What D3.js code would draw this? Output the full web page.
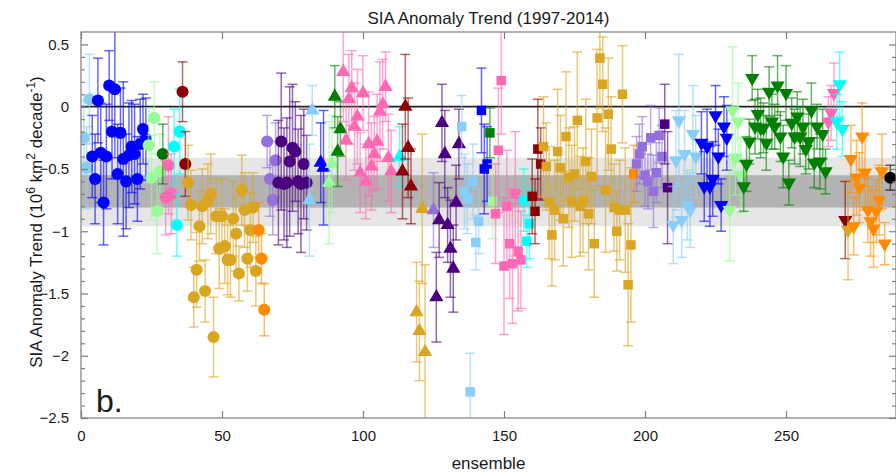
<!DOCTYPE html>
<html>
<head>
<meta charset="utf-8">
<script src="https://cdn.jsdelivr.net/npm/d3@7"></script>
<style>
  body { margin: 0; background: #fff; }
  svg { display: block; }
  text { font-family: "Liberation Sans", Arial, Helvetica, sans-serif; fill: #1a1a1a; }
</style>
</head>
<body>
<svg id="chart" width="896" height="474"></svg>
<script>
// One entry per model: colour, marker, first ensemble member, trends and 1-sigma errors
const modelColor = [
  "#87CEFA", "#0000FF", "#98FB98", "#007000", "#FF69B4", "#00FFFF", "#8B0000", "#DAA520", "#FF8C00", "#9370DB", "#4B0082",
  "#87CEFA", "#0000FF", "#98FB98", "#008000", "#FF69B4", "#00FFFF", "#8B0000", "#DAA520", "#9370DB", "#4B0082",
  "#87CEFA", "#0000FF", "#008000", "#98FB98", "#FF69B4", "#00FFFF", "#8B0000", "#DAA520", "#FF8C00", "#9370DB", "#4B0082",
  "#87CEFA", "#0000FF", "#98FB98", "#008000", "#FF69B4", "#00FFFF", "#8B0000", "#DAA520", "#FF8C00",
  "#000000"
];
const modelShape = [
  "o", "o", "o", "o", "o", "o", "o", "o", "o", "o", "o",
  "^", "^", "^", "^", "^", "^", "^", "^", "^", "^",
  "s", "s", "s", "s", "s", "s", "s", "s", "s", "s", "s",
  "v", "v", "v", "v", "v", "v", "v", "v", "v",
  "o"
];
const modelStart = [
  1, 4, 24, 29, 30, 33, 36, 38, 63, 66, 70,
  81, 85, 88, 90, 93, 113, 114, 119, 125, 126,
  135, 142, 145, 146, 147, 157, 160, 164, 196, 197, 207,
  210, 220, 230, 235, 265, 268, 271, 272, 273,
  287
];
const modelTrend = [
  [-0.25, -0.49, 0.06],
  [-0.40, -0.58, 0.05, -0.37, -0.77, -0.40, 0.17, -0.20, 0.14, -0.54, -0.21, -0.42, -0.60, -0.39, -0.32, -0.38, -0.58, -0.30, -0.18, -0.26],
  [-0.31, -0.57, -0.09, -0.84, -0.52],
  [-0.38],
  [-0.73, -0.47, -0.70],
  [-0.32, -0.95, -0.20],
  [0.12, -0.46],
  [-0.61, -0.79, -1.53, -1.31, -0.96, -0.80, -1.48, -0.76, -0.70, -1.85, -0.88, -1.14, -0.88, -1.12, -1.23, -1.23, -0.90, -1.02, -1.34, -0.67, -0.83, -1.22, -0.99, -0.81, -1.32],
  [-0.99, -1.22, -1.63],
  [-0.28, -0.58, -0.75, -0.43],
  [-0.61, -0.28, -0.62, -0.61, -0.44, -0.33, -0.36, -0.60, -0.62, -0.46, -0.61],
  [-0.75, -0.03],
  [-0.45, -0.49],
  [-0.61, -0.46],
  [0.08, -0.36, -0.18],
  [0.28, -0.27, 0.06, 0.15, -0.16, -0.08, -0.53, 0.11, -0.60, -0.30, -0.48, -0.38, -0.28, -0.04, 0.02, 0.16, -0.41, -0.52],
  [-0.40],
  [-0.52, 0.00, -0.33, -0.64],
  [-1.65, -1.80, -0.82, -1.97],
  [-0.83],
  [-1.53, -0.91, -0.13, -0.38, -0.95, -1.14, -1.30, -0.77, -0.30],
  [-0.16, -0.68, -0.74, -2.29, -0.60, -1.09, -0.92],
  [-0.03, -0.50, -0.46],
  [-0.21],
  [-0.76],
  [-0.86, -0.35, 0.21, -1.28, -0.80, -1.10, -1.26, -0.70, -1.16, -1.23],
  [-0.75, -1.08, -0.94],
  [-0.72, -0.84, -0.34, -0.46],
  [-0.32, -0.48, -0.77, -1.03, -0.83, -0.36, -0.49, -0.90, -0.24, -0.57, -0.76, -0.54, -0.11, -0.80, -0.75, -0.44, -0.86, -0.56, -1.10, -0.09, 0.39, 0.18, -0.67, -0.06, -0.34, -0.81, -1.00, -0.83, 0.10, -0.83, -1.43, -1.11],
  [-0.54],
  [-0.46, -0.38, -0.32, -0.55, -0.60, -0.25, -0.68, -0.53, -0.23, -0.40],
  [-0.14, -0.65],
  [-0.95, -0.43, -0.11, -0.91, -0.38, -0.79, -0.83, -0.22, -0.40],
  [-0.29, -0.64, -0.32, -0.64, -0.58, -0.07, -0.40, -0.79, -0.16, -0.25],
  [-0.83, -0.03, -0.41, -0.12, -0.55],
  [-0.64, -0.46, -0.28, 0.23, -0.16, -0.06, -0.17, -0.17, -0.29, 0.12, -0.12, -0.16, 0.17, -0.24, -0.40, 0.11, -0.61, -0.13, -0.24, -0.08, -0.24, -0.16, -0.34, -0.28, -0.03, -0.45, -0.16, -0.44, -0.22, -0.52],
  [-0.12, -0.05, 0.11],
  [-0.12, 0.18, -0.18],
  [-0.91],
  [-0.99],
  [-0.42, -0.96, -0.57, -0.65, -0.24, -0.53, -0.83, -0.92, -0.98, -0.84, -0.75, -0.52, -1.10],
  [-0.57]
];
const modelError = [
  [0.30, 0.33, 0.36],
  [0.33, 0.36, 0.34, 0.40, 0.34, 0.42, 0.28, 0.38, 0.55, 0.40, 0.36, 0.62, 0.38, 0.42, 0.37, 0.40, 0.34, 0.36, 0.28, 0.33],
  [0.30, 0.34, 0.29, 0.34, 0.30],
  [0.24],
  [0.30, 0.39, 0.32],
  [0.30, 0.25, 0.34],
  [0.24, 0.26],
  [0.30, 0.28, 0.24, 0.30, 0.28, 0.30, 0.25, 0.30, 0.32, 0.32, 0.30, 0.32, 0.30, 0.30, 0.28, 0.30, 0.30, 0.30, 0.22, 0.28, 0.30, 0.26, 0.30, 0.28, 0.28],
  [0.22, 0.20, 0.21],
  [0.21, 0.30, 0.28, 0.30],
  [0.50, 0.55, 0.45, 0.52, 0.60, 0.51, 0.40, 0.42, 0.55, 0.44, 0.38],
  [0.45, 0.20],
  [0.32, 0.46],
  [0.49, 0.39],
  [0.25, 0.28, 0.22],
  [0.40, 0.32, 0.36, 0.30, 0.35, 0.38, 0.32, 0.30, 0.30, 0.42, 0.35, 0.30, 0.38, 0.40, 0.36, 0.28, 0.35, 0.33],
  [0.24],
  [0.38, 0.42, 0.40, 0.30],
  [0.40, 0.40, 0.60, 0.70],
  [0.30],
  [0.36, 0.30, 0.31, 0.35, 0.30, 0.39, 0.35, 0.30, 0.28],
  [0.25, 0.30, 0.28, 0.31, 0.30, 0.22, 0.26],
  [0.34, 0.36, 0.30],
  [0.20],
  [0.30],
  [0.40, 0.50, 0.43, 0.55, 0.45, 0.44, 0.48, 0.50, 0.48, 0.39],
  [0.25, 0.21, 0.28],
  [0.30, 0.26, 0.40, 0.29],
  [0.40, 0.35, 0.45, 0.41, 0.40, 0.50, 0.42, 0.38, 0.52, 0.40, 0.45, 0.38, 0.55, 0.40, 0.42, 0.50, 0.45, 0.38, 0.43, 0.55, 0.40, 0.38, 0.50, 0.45, 0.42, 0.35, 0.32, 0.40, 0.39, 0.50, 0.49, 0.62],
  [0.23],
  [0.22, 0.24, 0.24, 0.25, 0.22, 0.26, 0.29, 0.24, 0.22, 0.25],
  [0.32, 0.45],
  [0.31, 0.40, 0.53, 0.30, 0.35, 0.28, 0.30, 0.39, 0.33],
  [0.25, 0.28, 0.30, 0.32, 0.30, 0.24, 0.22, 0.21, 0.24, 0.26],
  [0.41, 0.51, 0.30, 0.31, 0.30],
  [0.20, 0.22, 0.18, 0.18, 0.22, 0.20, 0.24, 0.20, 0.22, 0.20, 0.22, 0.18, 0.24, 0.20, 0.25, 0.22, 0.18, 0.20, 0.22, 0.20, 0.24, 0.22, 0.20, 0.22, 0.22, 0.20, 0.18, 0.22, 0.20, 0.18],
  [0.20, 0.22, 0.24],
  [0.22, 0.26, 0.22],
  [0.31],
  [0.40],
  [0.27, 0.23, 0.30, 0.28, 0.27, 0.30, 0.26, 0.28, 0.31, 0.25, 0.28, 0.30, 0.17],
  [0.10]
];

// Observed trend range: outer and inner shaded bands
const spreadOuter = [-0.96, -0.41];
const spreadInner = [-0.81, -0.55];

const xTicks = [0, 50, 100, 150, 200, 250];
const yTicks = [0.5, 0, -0.5, -1, -1.5, -2, -2.5];
const xDomain = [0, 289];
const yDomain = [-2.5, 0.6];

const svg = d3.select("#chart");
const plot = { left: 81, right: 896, top: 32, bottom: 418 };

const x = d3.scaleLinear().domain(xDomain).range([plot.left, plot.right]);
const y = d3.scaleLinear().domain(yDomain).range([plot.bottom, plot.top]);

svg.append("defs").append("clipPath").attr("id", "plotClip")
  .append("rect")
  .attr("x", plot.left).attr("y", plot.top)
  .attr("width", plot.right - plot.left).attr("height", plot.bottom - plot.top);

const body = svg.append("g").attr("clip-path", "url(#plotClip)");

// shaded bands
body.append("rect")
  .attr("x", plot.left).attr("width", plot.right - plot.left)
  .attr("y", y(spreadOuter[1])).attr("height", y(spreadOuter[0]) - y(spreadOuter[1]))
  .attr("fill", "#e6e6e6");
body.append("rect")
  .attr("x", plot.left).attr("width", plot.right - plot.left)
  .attr("y", y(spreadInner[1])).attr("height", y(spreadInner[0]) - y(spreadInner[1]))
  .attr("fill", "#b3b3b3");

// zero line
body.append("line")
  .attr("x1", plot.left).attr("x2", plot.right)
  .attr("y1", y(0)).attr("y2", y(0))
  .attr("stroke", "#222").attr("stroke-width", 1.8);

// symbol generators
const symbolFor = {
  "o": d3.symbol().type(d3.symbolCircle).size(115),
  "s": d3.symbol().type(d3.symbolSquare).size(90),
  "^": d3.symbol().type(d3.symbolTriangle).size(88),
  "v": d3.symbol().type(d3.symbolTriangle).size(88)
};
const capHalf = 5;

modelColor.forEach((color, gi) => {
  const pts = modelTrend[gi].map((v, i) => ({
    ens: modelStart[gi] + i, v: v, e: modelError[gi][i]
  }));
  const g = body.append("g");
  const bars = g.append("g")
    .attr("stroke", color).attr("stroke-opacity", 0.6).attr("stroke-width", 1.5).attr("fill", "none");
  pts.forEach(p => {
    const cx = x(p.ens), y1 = y(p.v + p.e), y2 = y(p.v - p.e);
    bars.append("line").attr("x1", cx).attr("x2", cx).attr("y1", y1).attr("y2", y2);
    bars.append("line").attr("x1", cx - capHalf).attr("x2", cx + capHalf).attr("y1", y1).attr("y2", y1);
    bars.append("line").attr("x1", cx - capHalf).attr("x2", cx + capHalf).attr("y1", y2).attr("y2", y2);
  });
  const shape = modelShape[gi];
  g.append("g").selectAll("path").data(pts).join("path")
    .attr("d", symbolFor[shape])
    .attr("transform", p => `translate(${x(p.ens)},${y(p.v)})` + (shape === "v" ? " rotate(180)" : ""))
    .attr("fill", color);
});

// axes box and ticks (inward)
const axisColor = "#7f7f7f";
svg.append("rect")
  .attr("x", plot.left).attr("y", plot.top)
  .attr("width", plot.right - plot.left).attr("height", plot.bottom - plot.top)
  .attr("fill", "none").attr("stroke", axisColor).attr("stroke-width", 1.2);

const axes = svg.append("g");
axes.append("g").attr("transform", `translate(0,${plot.bottom})`)
  .call(d3.axisBottom(x).tickValues(xTicks).tickSizeInner(-7).tickSizeOuter(0).tickPadding(12))
  .call(a => a.select(".domain").remove());
axes.append("g").attr("transform", `translate(0,${plot.top})`)
  .call(d3.axisTop(x).tickValues(xTicks).tickSizeInner(-7).tickSizeOuter(0).tickFormat(""))
  .call(a => a.select(".domain").remove());

const minorY = d3.range(-25, 6).map(k => k / 10).filter(v => !yTicks.some(t => Math.abs(t - v) < 1e-9));
axes.append("g").attr("transform", `translate(${plot.left},0)`)
  .call(d3.axisLeft(y).tickValues(yTicks).tickSizeInner(-7).tickSizeOuter(0).tickPadding(12).tickFormat(d3.format("~g")))
  .call(a => a.select(".domain").remove());
axes.append("g").attr("transform", `translate(${plot.left},0)`)
  .call(d3.axisLeft(y).tickValues(minorY).tickSizeInner(-4).tickSizeOuter(0).tickFormat(""))
  .call(a => a.select(".domain").remove());
axes.append("g").attr("transform", `translate(${plot.right},0)`)
  .call(d3.axisRight(y).tickValues(yTicks).tickSizeInner(-7).tickSizeOuter(0).tickFormat(""))
  .call(a => a.select(".domain").remove());
axes.append("g").attr("transform", `translate(${plot.right},0)`)
  .call(d3.axisRight(y).tickValues(minorY).tickSizeInner(-4).tickSizeOuter(0).tickFormat(""))
  .call(a => a.select(".domain").remove());

axes.selectAll(".tick line").attr("stroke", axisColor).attr("stroke-width", 1.2);
axes.selectAll(".tick text")
  .style("font-family", "'Liberation Sans', Arial, sans-serif")
  .style("font-size", "15px").attr("fill", "#262626");

// title and labels
svg.append("text")
  .attr("x", (plot.left + plot.right) / 2).attr("y", 24)
  .attr("text-anchor", "middle").style("font-size", "17px")
  .text("SIA Anomaly Trend (1997-2014)");

svg.append("text")
  .attr("x", (plot.left + plot.right) / 2).attr("y", 469)
  .attr("text-anchor", "middle").style("font-size", "17px")
  .text("ensemble");

const yl = svg.append("text")
  .attr("transform", "translate(42,222) rotate(-90)")
  .attr("text-anchor", "middle").style("font-size", "17px");
yl.append("tspan").text("SIA Anomaly Trend (10");
yl.append("tspan").attr("dy", -7).style("font-size", "12px").text("6");
yl.append("tspan").attr("dy", 7).text(" km");
yl.append("tspan").attr("dy", -7).style("font-size", "12px").text("2");
yl.append("tspan").attr("dy", 7).text(" decade");
yl.append("tspan").attr("dy", -7).style("font-size", "12px").text("-1");
yl.append("tspan").attr("dy", 7).text(")");

svg.append("text")
  .attr("x", 96).attr("y", 412)
  .style("font-size", "32px")
  .text("b.");
</script>
</body>
</html>
